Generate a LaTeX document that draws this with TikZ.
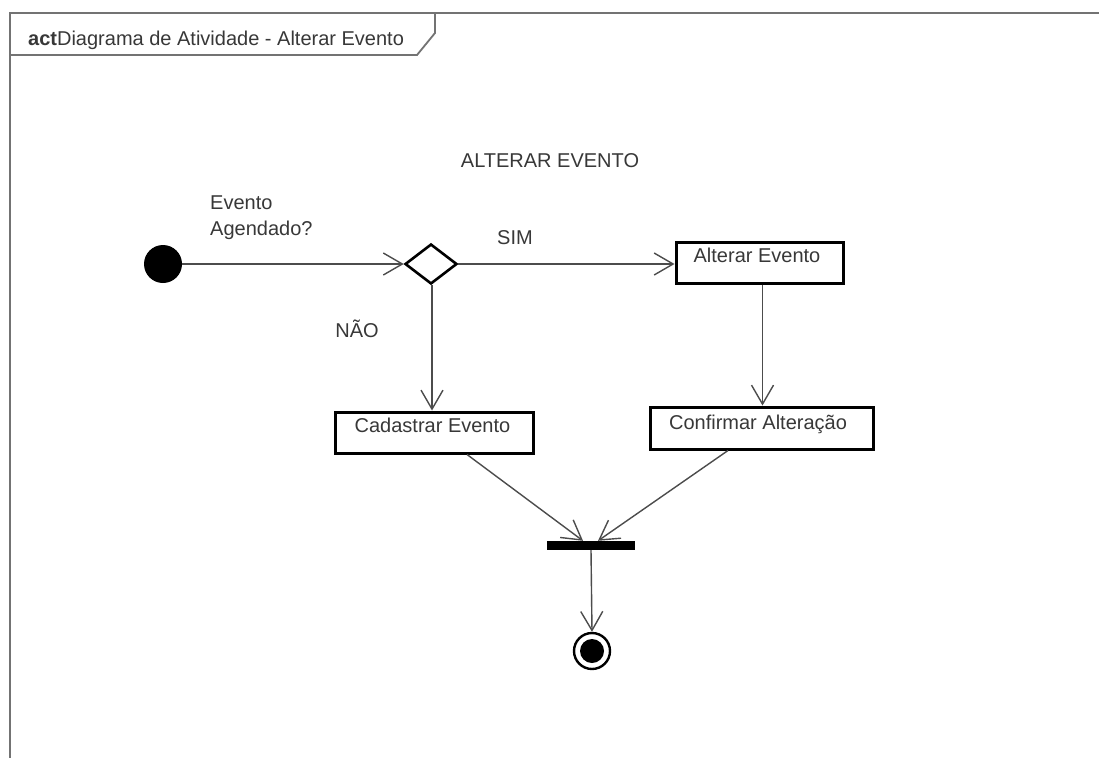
\documentclass[tikz,border=0pt]{standalone}
\usepackage{fontspec}
\setmainfont{Liberation Sans}
\usetikzlibrary{arrows.meta,shapes.geometric}
\begin{document}
\begin{tikzpicture}[x=1pt,y=-1pt,
  txt/.style={inner sep=0pt,text=black!78,font=\fontsize{20}{24}\selectfont},
  actbox/.style={draw=black,line width=3pt,fill=white,inner sep=0pt},
  flow/.style={draw=black!70,line width=1.4pt,-{Straight Barb[length=19pt,width=22pt,line width=1.4pt]}},
  framel/.style={draw=black!55,line width=1.8pt}]
  \useasboundingbox (0,0) rectangle (1099,758);
  \fill[white] (0,0) rectangle (1099,758);

  % frame and its name tab
  \draw[framel] (1099,13) -- (10,13) -- (10,758);
  \draw[framel] (10,55) -- (417,55) -- (435,33) -- (435,13);
  \node[txt,anchor=base west] (title) at (28,45) {{\bfseries act}Diagrama de Atividade - Alterar Evento};

  \node[txt,anchor=base] (head) at (550,167) {ALTERAR EVENTO};

  % nodes
  \node[circle,fill=black,minimum size=38pt,inner sep=0pt] (start) at (163,264) {};
  \node[diamond,draw=black,line width=2.6pt,fill=white,inner sep=0pt,minimum width=52pt,minimum height=40pt] (dec) at (431,264) {};
  \node[actbox,minimum width=167pt,minimum height=41pt] (alt) at (759.5,262.5) {};
  \node[actbox,minimum width=198pt,minimum height=41pt] (cad) at (434,432.5) {};
  \node[actbox,minimum width=223pt,minimum height=42pt] (conf) at (761.5,428) {};
  \node[fill=black,minimum width=88pt,minimum height=9pt,inner sep=0pt] (join) at (591,545.5) {};
  \node[circle,draw=black,line width=2.4pt,fill=white,minimum size=36pt,inner sep=0pt] (final) at (592,651) {};
  \fill[black] (final.center) circle (12pt);

  % texts inside action boxes
  \node[txt,anchor=base] (altT) at (757,262) {Alterar Evento};
  \node[txt,anchor=base] (cadT) at (432.5,432) {Cadastrar Evento};
  \node[txt,anchor=base] (confT) at (758,429) {Confirmar Alteração};

  % guard labels
  \node[txt,anchor=base west] (g1) at (210,209) {Evento};
  \node[txt,anchor=base west] (g2) at (210,235) {Agendado?};
  \node[txt,anchor=base] (sim) at (515,244) {SIM};
  \node[txt,anchor=base] (nao) at (357,337) {NÃO};

  % flows
  \draw[flow] (start) -- (dec.west);
  \draw[flow] (dec.east) -- (dec.east -| alt.west);
  \draw[flow] ([xshift=1pt]dec.south) -- ([xshift=1pt]dec.south |- cad.north);
  \draw[flow] ([xshift=3pt]alt.south) -- ([xshift=3pt]alt.south |- conf.north);
  \draw[flow] ([xshift=33pt]cad.south) -- ([xshift=-8pt]join.north);
  \draw[flow] ([xshift=-33.5pt]conf.south) -- ([xshift=7pt]join.north);
  \draw[flow] (join.south) -- (final.north);
\end{tikzpicture}
\end{document}
